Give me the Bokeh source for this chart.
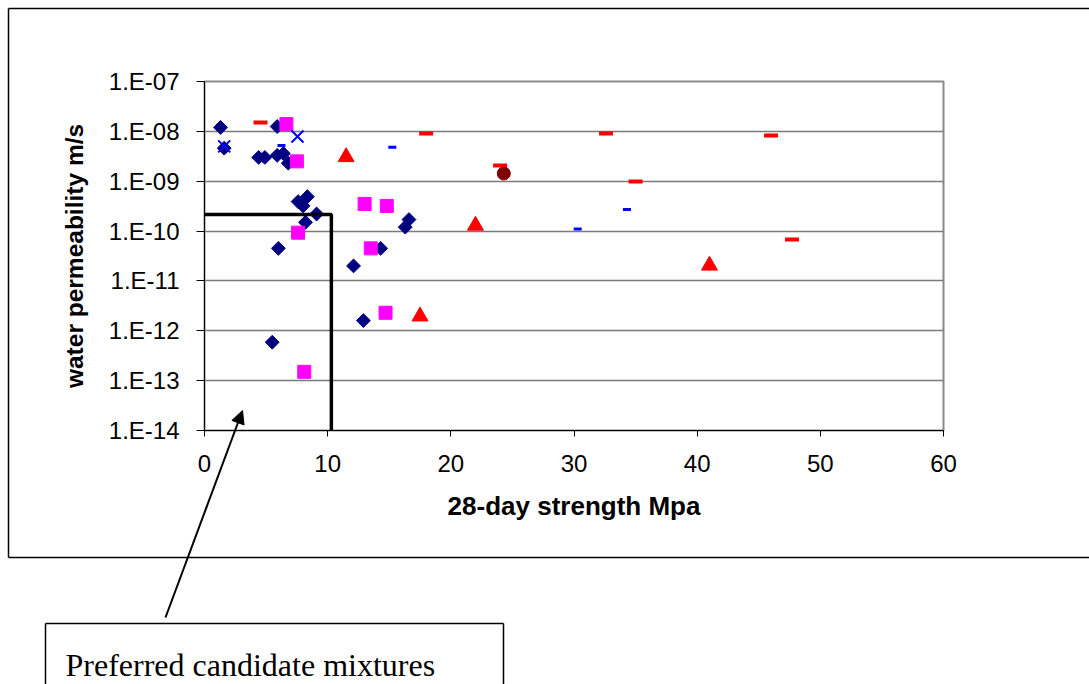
import numpy as np
from bokeh.plotting import figure
from bokeh.models import (FixedTicker, CustomJSTickFormatter, Arrow, NormalHead,
                          Label, Range1d)
from bokeh.embed import file_html
from bokeh.resources import INLINE

# ---------------- data ----------------
navy_x = [1.3, 1.6, 4.4, 4.9, 5.9, 5.9, 6.4, 6.8, 7.6, 8.35, 8.0, 9.1, 8.2, 6.0,
          14.3, 16.6, 16.3, 12.1, 12.9, 5.5]
navy_y = [1.2e-8, 4.6e-9, 3.0e-9, 3.0e-9, 1.25e-8, 3.3e-9, 3.6e-9, 2.3e-9, 3.9e-10,
          4.9e-10, 3.2e-10, 2.2e-10, 1.5e-10, 4.5e-11, 4.5e-11, 1.7e-10, 1.2e-10,
          2.0e-11, 1.6e-12, 5.9e-13]

magenta_x = [6.65, 7.5, 13.0, 14.8, 7.6, 13.5, 14.7, 8.1]
magenta_y = [1.4e-8, 2.5e-9, 3.5e-10, 3.2e-10, 9.3e-11, 4.5e-11, 2.3e-12, 1.5e-13]

triangle_x = [11.5, 22.0, 17.5, 41.0]
triangle_y = [3.06e-9, 1.29e-10, 1.95e-12, 2.04e-11]

red_dash_x = [4.55, 18.0, 24.0, 32.6, 35.0, 46.0, 47.7]
red_dash_y = [1.5e-8, 9.1e-9, 2.07e-9, 9.1e-9, 9.9e-10, 8.3e-9, 6.8e-11]

blue_dash_x = [6.25, 15.25, 30.3, 34.3]
blue_dash_y = [5.2e-9, 4.8e-9, 1.1e-10, 2.7e-10]

blue_x_x = [1.6, 7.55]
blue_x_y = [5.0e-9, 7.9e-9]

circle_x = [24.3]
circle_y = [1.43e-9]

# boundary of the "preferred" region
thr_x = [0.0, 10.3, 10.3]
thr_y = [2.15e-10, 2.15e-10, 1e-14]

x_ticks = [0, 10, 20, 30, 40, 50, 60]
y_ticks = [1e-14, 1e-13, 1e-12, 1e-11, 1e-10, 1e-09, 1e-08, 1e-07]
y_tick_labels = ["1.E-14", "1.E-13", "1.E-12", "1.E-11", "1.E-10", "1.E-09",
                 "1.E-08", "1.E-07"]

x_title = "28-day strength Mpa"
y_title = "water permeability m/s"
note_text = "Preferred candidate mixtures"

# ---------------- main chart ----------------
W, H = 1089, 684
FL, FR, FT, FB = 204, 943, 81, 430

p = figure(width=W, height=H, output_backend="svg", toolbar_location=None,
           y_axis_type="log", x_range=Range1d(0, 60),
           y_range=Range1d(1e-14, 1e-7),
           min_border_left=FL, min_border_right=W - FR,
           min_border_top=FT, min_border_bottom=H - FB)
p.background_fill_color = "white"
p.border_fill_color = "white"
p.outline_line_color = "#8a8a8a"
p.outline_line_width = 2

p.xgrid.visible = False
yt = FixedTicker(ticks=y_ticks, minor_ticks=[])
p.yaxis.ticker = yt
p.ygrid.ticker = yt
p.ygrid.grid_line_color = "#7a7a7a"
p.ygrid.grid_line_width = 1.3
p.yaxis.formatter = CustomJSTickFormatter(
    args=dict(labels=y_tick_labels),
    code="return labels[Math.round(Math.log10(tick)) + 14];")
p.xaxis.ticker = FixedTicker(ticks=x_ticks, minor_ticks=[])

for ax in (p.xaxis, p.yaxis):
    ax.axis_line_color = "black"
    ax.major_tick_line_color = "black"
    ax.minor_tick_line_color = None
    ax.major_tick_in = 0
    ax.major_label_text_font = "Liberation Sans"
    ax.major_label_text_font_size = "24px"
    ax.major_label_text_color = "black"
    ax.axis_label_text_font = "Liberation Sans"
    ax.axis_label_text_font_style = "bold"
    ax.axis_label_text_color = "black"

p.xaxis.major_tick_out = 6
p.xaxis.major_label_standoff = 18
p.xaxis.axis_label = x_title
p.xaxis.axis_label_text_font_size = "26px"
p.xaxis.axis_label_standoff = 16
p.yaxis.major_tick_out = 8
p.yaxis.major_label_standoff = 17
p.yaxis.axis_label = y_title
p.yaxis.axis_label_text_font_size = "24.5px"
p.yaxis.axis_label_standoff = 18

p.scatter(navy_x, navy_y, marker="square", size=9.8, angle=np.pi / 4,
          fill_color="#000080", line_color="#000080")
p.scatter(magenta_x, magenta_y, marker="square", size=13,
          fill_color="#ff00ff", line_color="#ff00ff")
p.scatter(triangle_x, triangle_y, marker="triangle", size=16,
          fill_color="#ff0000", line_color="#ff0000")
p.scatter(red_dash_x, red_dash_y, marker="dash", size=14, line_width=4,
          line_color="#ff0000")
p.scatter(blue_dash_x, blue_dash_y, marker="dash", size=8, line_width=3,
          line_color="#0000ff")
p.scatter(blue_x_x, blue_x_y, marker="x", size=17, line_width=2,
          line_color="#0000ff")
p.scatter(circle_x, circle_y, marker="circle", size=13,
          fill_color="#800000", line_color="#800000")

p.line(thr_x, thr_y, line_color="black", line_width=3.5)

# ---------------- transparent overlay for the chart box and callout ----------------
ov = figure(width=W, height=H, output_backend="svg", toolbar_location=None,
            x_range=Range1d(0, W), y_range=Range1d(H, 0),
            x_axis_type=None, y_axis_type=None, min_border=0)
ov.grid.visible = False
ov.background_fill_color = None
ov.border_fill_color = None
ov.outline_line_color = None
ov.styles = {"position": "absolute", "left": "0px", "top": "0px",
             "pointer-events": "none"}

# chart area box (left, top, bottom edges)
ov.segment(x0=[8, 8, 8], y0=[8, 8, 557], x1=[8, W, W], y1=[557, 8, 557],
           line_color="black", line_width=1.5)
# callout box
ov.segment(x0=[45, 45, 503], y0=[623, 623, 623], x1=[503, 45, 503], y1=[623, 700, 700],
           line_color="black", line_width=1.5)
ov.add_layout(Arrow(end=NormalHead(size=13, fill_color="black", line_color="black"),
                    x_start=165, y_start=617, x_end=242, y_end=410,
                    line_color="black", line_width=2))
ov.add_layout(Label(x=65, y=664, text=note_text, text_font="Liberation Serif",
                    text_font_size="32px", text_color="black",
                    text_baseline="alphabetic", text_align="left"))

open("out.html", "w").write(file_html([p, ov], INLINE))
